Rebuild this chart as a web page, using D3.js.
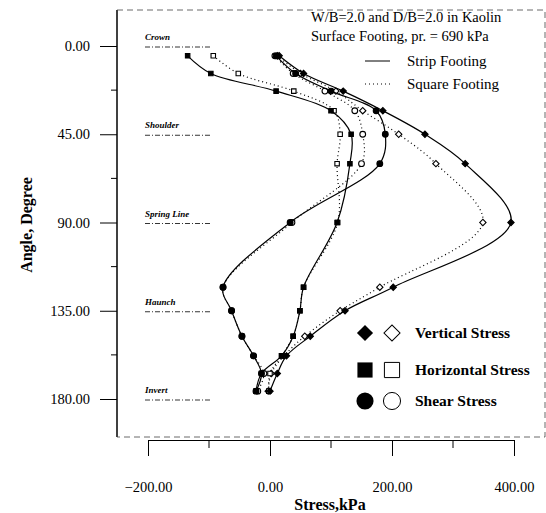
<!DOCTYPE html>
<html lang="en">
<head>
<meta charset="utf-8">
<title>Stress around pipe</title>
<script src="https://cdn.jsdelivr.net/npm/d3@7"></script>
<style>
  body { margin: 0; background: #fff; }
  text { font-family: "Liberation Serif", "DejaVu Serif", serif; fill: #000; }
</style>
</head>
<body>
<script>
// angle of each gauge point, degrees from crown
var angles = [5, 14, 23, 33, 45, 60, 90, 123, 135, 148, 158, 167, 176];

// strip footing (solid line, filled markers), kPa
var stripVertical   = [15, 55, 120, 185, 254, 320, 395, 202, 123, 66, 27, 12, 0];
var stripHorizontal = [-135, -97, 10, 100, 133, 131, 110, 55, 49, 38, 19, -14, -23];
var stripShear      = [10, 42, 100, 174, 189, 180, 33, -77, -63, -46, -27, -14, -23];

// square footing (dotted line, open markers), kPa
var squareVertical   = [12, 50, 108, 152, 211, 272, 349, 180, 115, 57, 23, 2, -3];
var squareHorizontal = [-93, -52, 39, 105, 115, 110, 111, 55, 49, 38, 19, 0, -2];
var squareShear      = [8, 38, 90, 139, 152, 150, 36, -77, -63, -46, -27, -10, -20];

var xTicks = [-200, 0, 200, 400];
var xMinor = [-100, 100, 300];
var yTicks = [0, 45, 90, 135, 180];
var yMinor = [22.5, 67.5, 112.5, 157.5];

var guides = [
  { name: "Crown", angle: 0 },
  { name: "Shoulder", angle: 45 },
  { name: "Spring Line", angle: 90 },
  { name: "Haunch", angle: 135 },
  { name: "Invert", angle: 180 }
];

var width = 546, height = 513;
var svg = d3.select("body").append("svg")
  .attr("width", width)
  .attr("height", height);

var x = d3.scaleLinear().domain([-200, 400]).range([148, 514]);
var y = d3.scaleLinear().domain([0, 180]).range([46, 399]);
var fmt = d3.format(".2f");

// diamond = square turned 45 degrees, like the original markers
function marker(type, size) {
  return d3.symbol().type(type === "diamond" ? d3.symbolSquare : type).size(size);
}
function rot(type) { return type === "diamond" ? " rotate(45)" : ""; }

// frame
svg.append("line").attr("x1", 117).attr("x2", 117).attr("y1", 10).attr("y2", 437)
  .attr("stroke", "#000").attr("stroke-width", 1.5);
svg.append("path")
  .attr("d", "M117,10 H545 V437 H117")
  .attr("fill", "none").attr("stroke", "#444").attr("stroke-width", 0.8)
  .attr("stroke-dasharray", "6,4");

// y axis ticks
var yAxis = svg.append("g").attr("transform", "translate(117,0)")
  .call(d3.axisLeft(y).tickValues(yTicks).tickSize(17).tickFormat(fmt));
yAxis.select(".domain").remove();
yAxis.selectAll("text").attr("font-size", 14.5).attr("dx", -7)
  .style("font-family", "Liberation Serif");
svg.append("g").selectAll("line").data(yMinor).join("line")
  .attr("x1", 111).attr("x2", 117)
  .attr("y1", d => y(d)).attr("y2", d => y(d))
  .attr("stroke", "#000");

// x axis
var xAxis = svg.append("g").attr("transform", "translate(0,440)")
  .call(d3.axisBottom(x).tickValues(xTicks).tickSize(16).tickSizeOuter(0).tickFormat(fmt));
xAxis.selectAll("text").attr("font-size", 14.5).attr("y", 47).attr("dy", "0.35em")
  .style("font-family", "Liberation Serif");
svg.append("g").selectAll("line").data(xMinor).join("line")
  .attr("x1", d => x(d)).attr("x2", d => x(d))
  .attr("y1", 440).attr("y2", 448)
  .attr("stroke", "#000");

// axis titles
svg.append("text")
  .attr("x", 330).attr("y", 510)
  .attr("text-anchor", "middle")
  .attr("font-size", 16).attr("font-weight", "bold")
  .text("Stress,kPa");
svg.append("text")
  .attr("transform", "translate(32,225) rotate(-90)")
  .attr("text-anchor", "middle")
  .attr("font-size", 16).attr("font-weight", "bold")
  .text("Angle, Degree");

// guide lines for pipe positions
var g = svg.append("g");
g.selectAll("line").data(guides).join("line")
  .attr("x1", 145).attr("x2", 212)
  .attr("y1", d => y(d.angle) + 1).attr("y2", d => y(d.angle) + 1)
  .attr("stroke", "#000").attr("stroke-width", 0.8)
  .attr("stroke-dasharray", "5,2,1,2");
g.selectAll("text").data(guides).join("text")
  .attr("x", 145).attr("y", d => y(d.angle) - 6)
  .attr("font-size", 9).attr("font-style", "italic").attr("font-weight", "bold")
  .text(d => d.name);

// data series, square footing first so strip markers sit on top
var series = [
  { v: squareVertical, sym: "diamond", filled: false },
  { v: squareHorizontal, sym: d3.symbolSquare, filled: false },
  { v: squareShear, sym: d3.symbolCircle, filled: false },
  { v: stripVertical, sym: "diamond", filled: true },
  { v: stripHorizontal, sym: d3.symbolSquare, filled: true },
  { v: stripShear, sym: d3.symbolCircle, filled: true }
];

var line = d3.line()
  .x(d => x(d[0]))
  .y(d => y(d[1]))
  .curve(d3.curveCatmullRom.alpha(0.5));

series.forEach(function (s) {
  var pts = angles.map((a, i) => [s.v[i], a]);
  svg.append("path")
    .attr("d", line(pts))
    .attr("fill", "none")
    .attr("stroke", "#000")
    .attr("stroke-width", 1.2)
    .attr("stroke-dasharray", s.filled ? null : "1,3");
  svg.append("g").selectAll("path").data(pts).join("path")
    .attr("transform", d => `translate(${x(d[0])},${y(d[1])})` + rot(s.sym))
    .attr("d", marker(s.sym, s.sym === d3.symbolCircle ? 26 : 20))
    .attr("fill", s.filled ? "#000" : "#fff")
    .attr("stroke", "#000")
    .attr("stroke-width", 1.1);
});

// title text
svg.append("text").attr("x", 311).attr("y", 22).attr("font-size", 14.5)
  .text("W/B=2.0 and D/B=2.0 in Kaolin");
svg.append("text").attr("x", 311).attr("y", 41).attr("font-size", 14.5)
  .text("Surface Footing, pr. = 690 kPa");

// footing legend
svg.append("line").attr("x1", 365).attr("x2", 390).attr("y1", 61).attr("y2", 61)
  .attr("stroke", "#000").attr("stroke-width", 1);
svg.append("text").attr("x", 407).attr("y", 66).attr("font-size", 15).text("Strip Footing");
svg.append("line").attr("x1", 365).attr("x2", 390).attr("y1", 84).attr("y2", 84)
  .attr("stroke", "#000").attr("stroke-width", 1.2).attr("stroke-dasharray", "1,3");
svg.append("text").attr("x", 407).attr("y", 89).attr("font-size", 15).text("Square Footing");

// marker legend
var markerLegend = [
  { label: "Vertical Stress", sym: "diamond", size: 130, yy: 333 },
  { label: "Horizontal Stress", sym: d3.symbolSquare, size: 230, yy: 370 },
  { label: "Shear Stress", sym: d3.symbolCircle, size: 230, yy: 401 }
];
var lg = svg.append("g");
markerLegend.forEach(function (m) {
  lg.append("path")
    .attr("transform", `translate(365,${m.yy})` + rot(m.sym))
    .attr("d", marker(m.sym, m.size))
    .attr("fill", "#000");
  lg.append("path")
    .attr("transform", `translate(392,${m.yy})` + rot(m.sym))
    .attr("d", marker(m.sym, m.size))
    .attr("fill", "#fff").attr("stroke", "#000").attr("stroke-width", 1);
  lg.append("text")
    .attr("x", 415).attr("y", m.yy + 5)
    .attr("font-size", 15.5).attr("font-weight", "bold")
    .text(m.label);
});
</script>
</body>
</html>
